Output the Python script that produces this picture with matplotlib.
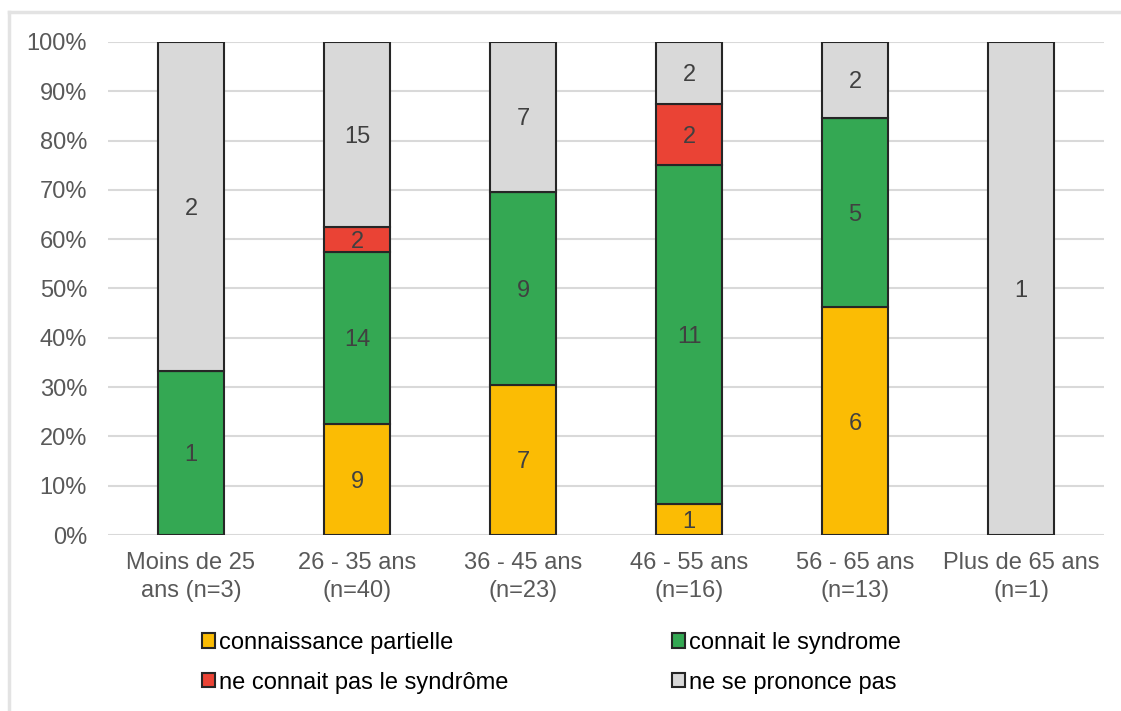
import numpy as np
import matplotlib.pyplot as plt
from matplotlib.lines import Line2D

plt.rcParams['font.family'] = ['Liberation Sans', 'DejaVu Sans']

categories = ['Moins de 25\nans (n=3)', '26 - 35 ans\n(n=40)', '36 - 45 ans\n(n=23)',
              '46 - 55 ans\n(n=16)', '56 - 65 ans\n(n=13)', 'Plus de 65 ans\n(n=1)']
series = ['connaissance partielle', 'connait le syndrome',
          'ne connait pas le syndrôme', 'ne se prononce pas']
partielle = [0, 9, 7, 1, 6, 0]
connait = [1, 14, 9, 11, 5, 0]
ne_connait_pas = [0, 2, 0, 2, 0, 0]
ne_se_prononce = [2, 15, 7, 2, 2, 1]
colors = ['#FBBC04', '#34A853', '#EA4335', '#D9D9D9']

counts = np.array([partielle, connait, ne_connait_pas, ne_se_prononce], dtype=float)
totals = counts.sum(axis=0)
pct = counts / totals

fig = plt.figure(figsize=(11.21, 7.11), dpi=100)
ax = fig.add_axes([0.0963, 0.2475, 0.8887, 0.6935])

x = np.arange(len(categories))
bottom = np.zeros(len(categories))
handles = []
for i, name in enumerate(series):
    bars = ax.bar(x, pct[i], 0.4, bottom=bottom, color=colors[i],
                  edgecolor='#262626', linewidth=1.5, label=name, zorder=3)
    handles.append(bars)
    for j in range(len(categories)):
        if counts[i, j] > 0:
            ax.text(x[j], bottom[j] + pct[i, j] / 2, '%d' % counts[i, j],
                    ha='center', va='center_baseline', fontsize=17, color='#404040', zorder=4)
    bottom += pct[i]

ax.set_xlim(-0.5, len(categories) - 0.5)
ax.set_ylim(0, 1)
ax.set_yticks(np.arange(0, 1.01, 0.1))
ax.set_yticklabels(['%d%%' % round(v * 100) for v in np.arange(0, 1.01, 0.1)])
ax.set_xticks(x)
ax.set_xticklabels(categories, linespacing=1.4)
ax.tick_params(axis='both', length=0, labelsize=17, labelcolor='#595959')
ax.tick_params(axis='y', pad=15)
ax.tick_params(axis='x', pad=12)
ax.yaxis.grid(True, color='#D9D9D9', linewidth=1.5, zorder=0)
ax.set_axisbelow(True)
for s in ax.spines.values():
    s.set_visible(False)

order = [0, 2, 1, 3]
fig.legend([handles[k] for k in order], [series[k] for k in order],
           ncol=2, loc='center', bbox_to_anchor=(0.492, 0.068), frameon=False,
           fontsize=17, handlelength=0.55, handleheight=0.55, handletextpad=0.2,
           columnspacing=6.9, labelspacing=0.75)

# light frame around the chart
fig.add_artist(Line2D([9 / 1121, 1], [1 - 12 / 711, 1 - 12 / 711], color='#E3E3E3',
                      linewidth=2.5, transform=fig.transFigure))
fig.add_artist(Line2D([9 / 1121, 9 / 1121], [0, 1 - 12 / 711], color='#E3E3E3',
                      linewidth=2.5, transform=fig.transFigure))

fig.savefig('out.png', dpi=100)
